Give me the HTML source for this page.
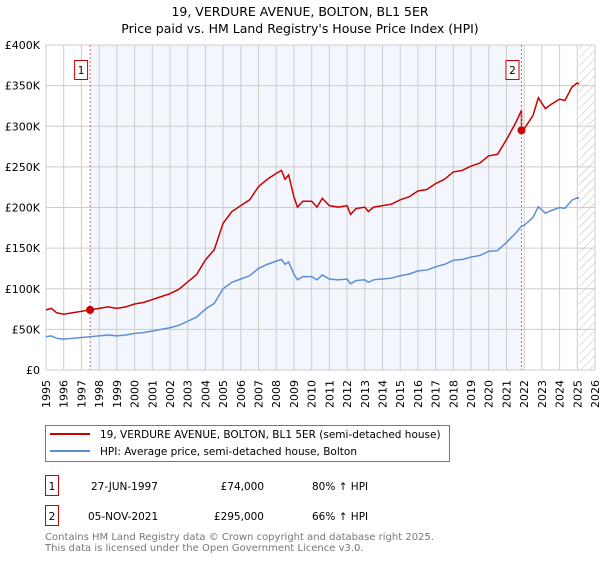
<!DOCTYPE html>
<html><head><meta charset="utf-8"><style>
body{margin:0;background:#fff;font-family:"DejaVu Sans","Liberation Sans",sans-serif;}
svg text{font-family:"DejaVu Sans","Liberation Sans",sans-serif;}
</style></head><body>
<svg id="c" width="600" height="560" xmlns="http://www.w3.org/2000/svg">
<text x="300" y="16" text-anchor="middle" font-size="12.5">19, VERDURE AVENUE, BOLTON, BL1 5ER</text>
<text x="300" y="33" text-anchor="middle" font-size="12.5">Price paid vs. HM Land Registry's House Price Index (HPI)</text>
<g id="plot"></g>
<g>
<rect x="45.5" y="425.5" width="404" height="36" fill="#fff" stroke="#777"/>
<line x1="50" y1="434" x2="90" y2="434" stroke="#cc0000" stroke-width="2"/>
<text x="100" y="438" font-size="10.5">19, VERDURE AVENUE, BOLTON, BL1 5ER (semi-detached house)</text>
<line x1="50" y1="451" x2="90" y2="451" stroke="#5b8fd4" stroke-width="2"/>
<text x="100" y="455" font-size="10.5">HPI: Average price, semi-detached house, Bolton</text>
</g>
<g>
<rect x="45.5" y="475.5" width="13" height="20" fill="#fff" stroke="#cc0000"/>
<text x="52" y="490" font-size="10.5" text-anchor="middle">1</text>
<text x="91" y="490" font-size="10.5">27-JUN-1997</text>
<text x="264" y="490" font-size="10.5" text-anchor="end">£74,000</text>
<text x="312" y="490" font-size="10.5">80% ↑ HPI</text>
<rect x="45.5" y="505.5" width="13" height="20" fill="#fff" stroke="#cc0000"/>
<text x="52" y="520" font-size="10.5" text-anchor="middle">2</text>
<text x="88" y="520" font-size="10.5">05-NOV-2021</text>
<text x="264" y="520" font-size="10.5" text-anchor="end">£295,000</text>
<text x="312" y="520" font-size="10.5">66% ↑ HPI</text>
</g>
<text x="45" y="540" font-size="10" fill="#777">Contains HM Land Registry data © Crown copyright and database right 2025.</text>
<text x="45" y="551" font-size="10" fill="#777">This data is licensed under the Open Government Licence v3.0.</text>
</svg>
<script>
const hpiYears=[1995,1995.3,1995.6,1996,1996.5,1997,1997.5,1998,1998.5,1999,1999.5,2000,2000.5,2001,2001.5,2002,2002.5,2003,2003.5,2004,2004.5,2005,2005.5,2006,2006.5,2007,2007.5,2008,2008.3,2008.5,2008.7,2009,2009.2,2009.5,2010,2010.3,2010.6,2011,2011.5,2012,2012.2,2012.5,2013,2013.2,2013.5,2014,2014.5,2015,2015.5,2016,2016.5,2017,2017.5,2018,2018.5,2019,2019.5,2020,2020.5,2021,2021.5,2021.85,2022,2022.5,2022.8,2023.2,2023.5,2024,2024.3,2024.7,2025,2025.1];
const hpiValues=[41,42,39,38,39,40,41,42,43,42,43,45,46,48,50,52,55,60,65,75,82,100,108,112,116,125,130,134,136,130,133,118,111,115,115,111,117,112,111,112,106,110,111,108,111,112,113,116,118,122,123,127,130,135,136,139,141,146,147,157,168,177,178,188,201,193,196,200,199,209,212,211];
const saleYears=[1997.49,2021.85];
const salePrices=[74000,295000];
const saleLabels=["1","2"];
const yTicks=[0,50000,100000,150000,200000,250000,300000,350000,400000];
const yTickLabels=["£0","£50K","£100K","£150K","£200K","£250K","£300K","£350K","£400K"];
const xTicks=[1995,1996,1997,1998,1999,2000,2001,2002,2003,2004,2005,2006,2007,2008,2009,2010,2011,2012,2013,2014,2015,2016,2017,2018,2019,2020,2021,2022,2023,2024,2025,2026];

const NS="http://www.w3.org/2000/svg";
const L=46,R=595,T=45,B=370;
const x=t=>L+(t-1995)/(2026-1995)*(R-L);
const y=v=>B-v/400000*(B-T);
const g=document.getElementById('plot');
function mk(tag,attrs,parent){const e=document.createElementNS(NS,tag);for(const k in attrs)e.setAttribute(k,attrs[k]);(parent||g).appendChild(e);return e;}
function interp(t){for(let i=0;i<hpiYears.length-1;i++){if(t>=hpiYears[i]&&t<=hpiYears[i+1]){const f=(t-hpiYears[i])/(hpiYears[i+1]-hpiYears[i]);return (hpiValues[i]+f*(hpiValues[i+1]-hpiValues[i]))*1000;}}return hpiValues[hpiValues.length-1]*1000;}

const sh=mk('rect',{x:x(saleYears[0]),y:T,width:x(saleYears[1])-x(saleYears[0]),height:B-T,fill:'#eef3fc',opacity:0.7});


const defs=mk('defs',{});
const pat=mk('pattern',{id:'h',width:6,height:6,patternUnits:'userSpaceOnUse',patternTransform:'rotate(45)'},defs);
mk('line',{x1:0,y1:0,x2:0,y2:6,stroke:'#bbb','stroke-width':1},pat);
const ht=mk('rect',{x:x(2025.1),y:T,width:R-x(2025.1),height:B-T,fill:'url(#h)'});


yTicks.forEach((v,i)=>{
 const ln=mk('line',{x1:L,x2:R,y1:y(v),y2:y(v),stroke:'#ccc'});
 
 
 const tx=mk('text',{x:L-6,y:y(v)+4,'text-anchor':'end','font-size':11});
 
 
 tx.textContent=yTickLabels[i];
});
xTicks.forEach(t=>{
 const ln=mk('line',{x1:x(t),x2:x(t),y1:T,y2:B,stroke:'#ccc'});
 
 
 const tx=mk('text',{x:0,y:0,'text-anchor':'end','font-size':11,transform:'translate('+(x(t)+4)+','+(B+10)+') rotate(-90)'});
 
 
 tx.textContent=t;
});
mk('line',{x1:L,x2:L,y1:T,y2:B,stroke:'#ccc'});
const hp=mk('polyline',{points:hpiYears.map((t,i)=>x(t)+','+y(hpiValues[i]*1000)).join(' '),fill:'none',stroke:'#5b8fd4','stroke-width':1.5});


const base0=interp(saleYears[0]),base1=interp(saleYears[1]);
const pts=[];let done=false;
hpiYears.forEach((t,i)=>{
 const v=hpiValues[i]*1000;
 if(t<saleYears[1]) pts.push(x(t)+','+y(v*salePrices[0]/base0));
 else { if(!done){pts.push(x(saleYears[1])+','+y(base1*salePrices[0]/base0));pts.push(x(saleYears[1])+','+y(salePrices[1]));done=true;}
   pts.push(x(t)+','+y(v*salePrices[1]/base1)); }
});
const pl=mk('polyline',{points:pts.join(' '),fill:'none',stroke:'#cc0000','stroke-width':1.5});


saleYears.forEach((t,i)=>{
 const vl=mk('line',{x1:x(t),x2:x(t),y1:T,y2:B,stroke:'#f06060','stroke-dasharray':'2,2'});
 
 
 const c=mk('circle',{cx:x(t),cy:y(salePrices[i]),r:4,fill:'#cc0000'});
 
 
 const bx=mk('rect',{x:x(t)-15.5,y:60.5,width:13,height:19,fill:'#fff',stroke:'#cc0000'});
 
 
 const tx=mk('text',{x:x(t)-9,y:74,'text-anchor':'middle','font-size':10.5});
 
 
 tx.textContent=saleLabels[i];
});
</script>
</body></html>
